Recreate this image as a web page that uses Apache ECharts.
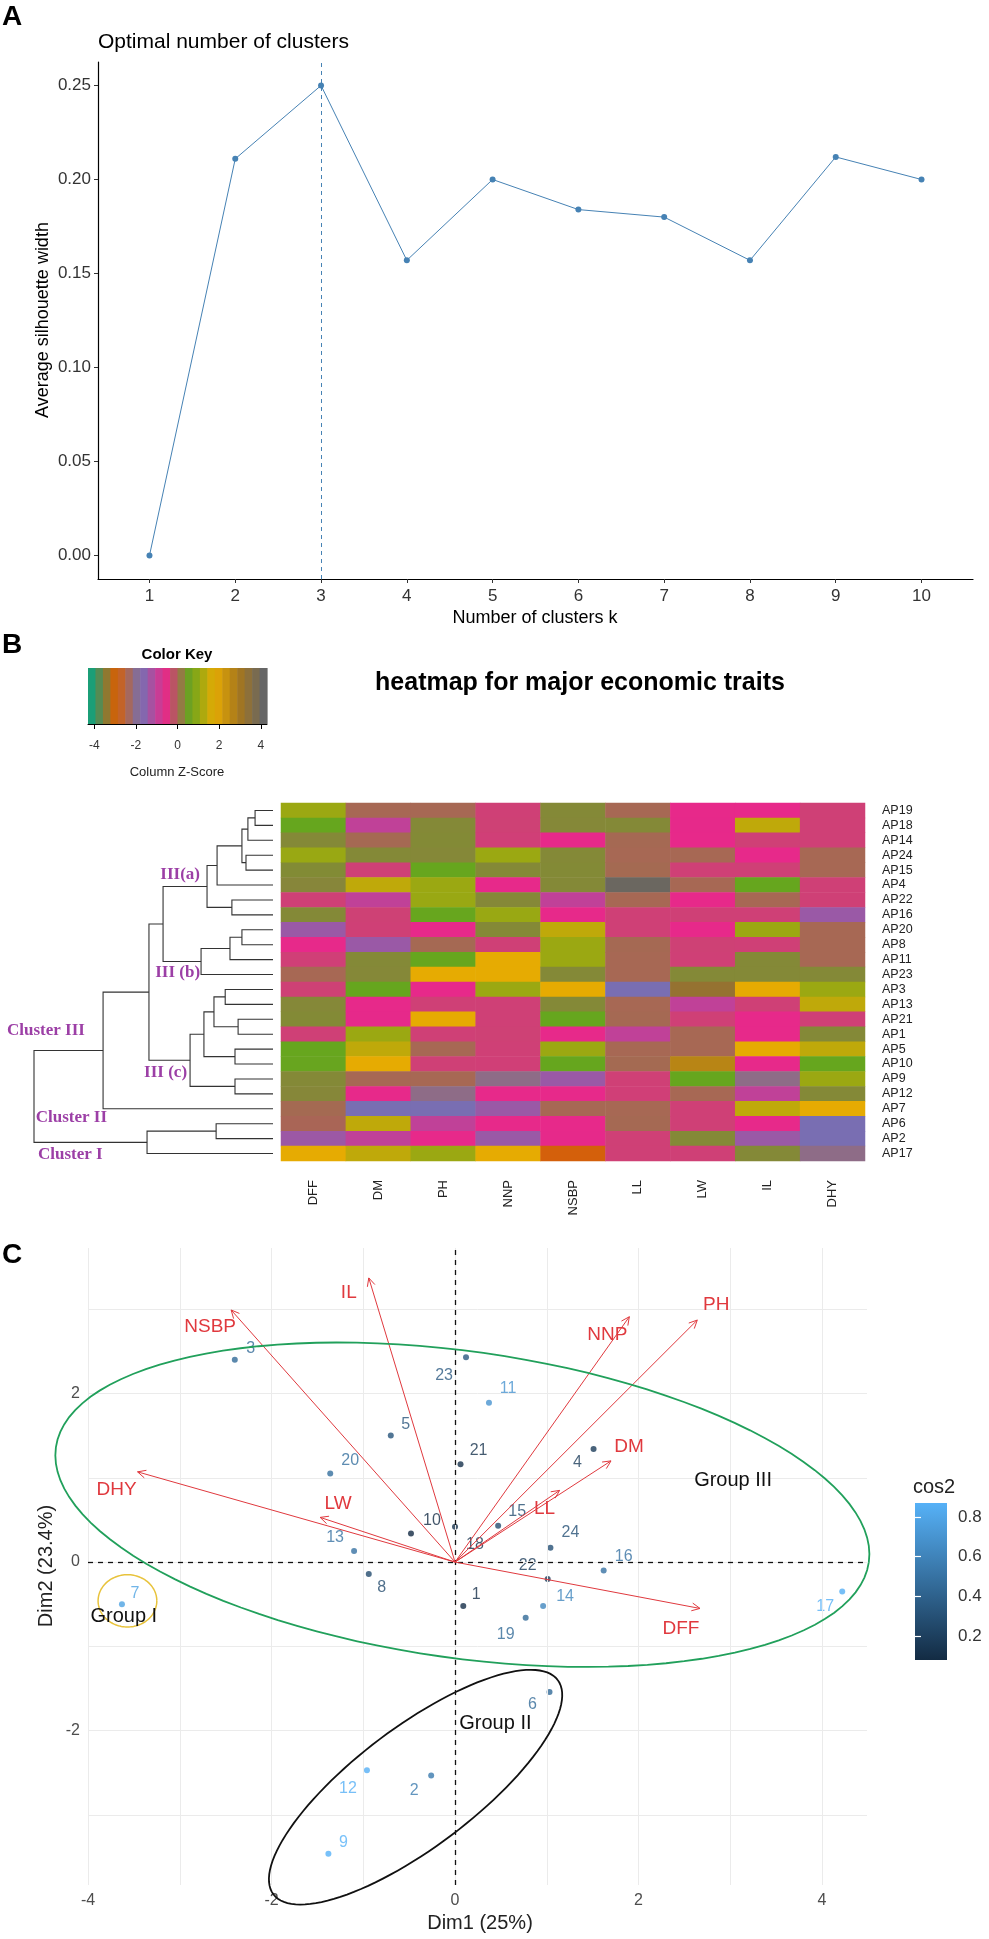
<!DOCTYPE html>
<html><head><meta charset="utf-8">
<script src="https://cdn.jsdelivr.net/npm/echarts@6/dist/echarts.min.js"></script>
<style>html,body{margin:0;padding:0;background:#fff}#c{width:989px;height:1939px}</style>
</head><body><div id="c"></div>
<script>
// ---------- Panel A data ----------
const kValues = [1,2,3,4,5,6,7,8,9,10];
const silhouette = [0.000,0.211,0.250,0.157,0.200,0.184,0.180,0.157,0.212,0.200];
const optimalK = 3;
const silTicks = [0,0.05,0.10,0.15,0.20,0.25];

// ---------- Panel B data ----------
const traits = ['DFF','DM','PH','NNP','NSBP','LL','LW','IL','DHY'];
const genotypes = ['AP19','AP18','AP14','AP24','AP15','AP4','AP22','AP16','AP20','AP8','AP11','AP23',
                   'AP3','AP13','AP21','AP1','AP5','AP10','AP9','AP12','AP7','AP6','AP2','AP17'];
const zDFF  = [1.12,0.61,0.33,1.10,0.35,0.30,-0.39,0.33,-1.44,-0.61,-0.40,0.00,-0.38,0.32,0.34,-0.39,0.62,0.60,0.33,0.31,0.02,-0.02,-1.42,1.84];
const zDM   = [0.00,-1.03,0.01,0.33,-0.39,1.47,-1.03,-0.38,-0.39,-1.44,0.33,0.32,0.61,-0.61,-0.62,1.12,1.47,1.84,0.00,-0.61,-1.80,1.47,-1.03,1.47];
const zPH   = [0.00,0.33,0.34,0.32,0.61,1.12,1.10,0.62,-0.61,0.01,0.61,1.84,-0.61,-0.39,1.84,-0.39,0.00,-0.39,0.00,-2.15,-1.80,-1.03,-0.61,1.12];
const zNNP  = [-0.39,-0.38,-0.40,1.12,0.33,-0.61,0.32,1.10,0.33,-0.39,1.84,1.84,1.12,-0.39,-0.39,-0.38,-0.39,-0.40,-2.15,-0.61,-1.44,-0.61,-1.44,1.84];
const zNSBP = [0.33,0.32,-0.61,0.33,0.34,0.33,-1.03,-0.61,1.47,1.12,1.12,0.33,1.84,0.33,0.61,-0.61,1.12,0.61,-1.44,-0.61,0.00,-0.61,-0.62,-3.01];
const zLL   = [0.00,0.33,0.01,0.00,0.02,4.20,0.00,-0.39,-0.39,0.01,0.00,0.00,-1.80,0.00,0.01,-1.03,0.00,0.02,-0.39,-0.40,0.00,0.01,-0.39,-0.39];
const zLW   = [-0.61,-0.62,-0.61,0.00,-0.39,0.00,-0.61,-0.39,-0.61,-0.38,-0.39,0.33,3.40,-1.03,-0.39,0.00,0.00,2.73,0.61,0.00,-0.39,-0.39,0.33,-0.39];
const zIL   = [-0.61,1.47,-0.39,-0.61,-0.39,0.61,0.00,-0.39,1.12,-0.39,0.33,0.33,1.84,-0.39,-0.61,-0.61,1.84,-0.61,-2.15,-1.03,1.47,-0.61,-1.44,0.33];
const zDHY  = [-0.39,-0.39,-0.39,0.00,0.00,-0.39,-0.39,-1.44,0.00,0.00,0.00,0.33,1.12,1.47,-0.39,0.33,1.47,0.61,1.12,0.33,1.84,-1.80,-1.80,-2.15];
const keyTicks = [-4,-2,0,2,4];
// dendrogram merges: [childA, childB, height]; strings = leaves, numbers = earlier merges
const merges = [
  ['AP19','AP18',0.75], [0,'AP14',1.05], ['AP24','AP15',1.13], [1,2,1.30], [3,'AP4',2.34],
  ['AP22','AP16',1.72], [4,5,2.76], ['AP20','AP8',1.30], [7,'AP11',1.80], [8,'AP23',3.01],
  [6,9,4.60], ['AP3','AP13',2.00], ['AP21','AP1',1.46], [11,12,2.47], ['AP5','AP10',1.59],
  [13,14,2.89], ['AP9','AP12',1.59], [15,16,3.47], [10,17,5.19], [18,'AP7',7.11],
  ['AP6','AP2',2.38], [20,'AP17',5.27], [19,21,10.0]
];

// ---------- Panel C data ----------
const pcaIds = ['1','2','3','4','5','6','7','8','9','10','11','12','13','14','15','16','17','18','19','20','21','22','23','24'];
const dim1 = [0.09,-0.26,-2.40,1.51,-0.70,1.03,-3.63,-0.94,-1.38,-0.48,0.37,-0.96,-1.10,0.96,0.47,1.62,4.22,0.00,0.77,-1.36,0.06,1.01,0.12,1.04];
const dim2 = [-0.52,-2.53,2.40,1.34,1.50,-1.54,-0.50,-0.14,-3.46,0.34,1.89,-2.47,0.13,-0.52,0.43,-0.10,-0.35,0.42,-0.66,1.05,1.16,-0.20,2.43,0.17];
const cos2 = [0.10,0.55,0.45,0.18,0.32,0.45,0.78,0.27,0.87,0.08,0.70,0.86,0.50,0.62,0.28,0.50,0.86,0.12,0.45,0.48,0.12,0.18,0.35,0.30];
const cos2Ticks = [0.2,0.4,0.6,0.8];
const varNames = ['DFF','DM','PH','NNP','NSBP','LL','LW','IL','DHY'];
const varDim1 = [2.67,1.70,2.64,1.90,-2.44,1.14,-1.47,-0.94,-3.46];
const varDim2 = [-0.55,1.20,2.87,2.91,2.99,0.85,0.53,3.37,1.07];
const groupNames = ['Group III','Group I','Group II'];
const groupLabelAt = [[3.03,0.97],[-3.61,-0.65],[0.44,-1.91]];
const pcaXTicks = [-4,-2,0,2,4];
const pcaYTicks = [-2,0,2];
const pcaXGrid = [-4,-3,-2,-1,0,1,2,3,4];
const pcaYGrid = [-3,-2,-1,0,1,2,3];

// ---------- layout / style (not data) ----------
const FONT = 'Liberation Sans';
const dark2 = ['#1B9E77','#D95F02','#7570B3','#E7298A','#66A61E','#E6AB02','#A6761D','#666666'];
const keyMin = -4.3, keyMax = 4.3, keyStripes = 24;
const pointLabelOffset = [[13,-11],[-17,15],[16,-11],[-16,14],[15,-11],[-17,13],[13,-11],[13,14],[15,-11],[21,-13],[19,-14],[-19,18],[-19,-14],[22,-9],[19,-14],[20,-14],[-17,15],[20,18],[-20,17],[20,-13],[18,-14],[-20,-13],[-22,18],[20,-15]];
const varLabelOffset = [[-19,20],[18,-14],[19,-15],[-22,18],[-21,17],[-15,18],[18,-14],[-20,15],[-21,18]];
const ellipses = [ // center, conjugate semi-axes in data units
  {c:[0.08,0.68], a:[4.43,-0.68], b:[-0.23,-1.80], color:'#21A05B', w:1.8},
  {c:[-3.57,-0.46], a:[0.32,0], b:[0,0.31], color:'#E8C33C', w:1.5},
  {c:[-0.43,-2.67], a:[1.55,1.27], b:[0.39,-0.57], color:'#111111', w:1.8}
];
const dendroLabels = [
  {node:6, text:'III(a)', dx:-7, dy:-12, align:'right'},
  {node:9, text:'III (b)', dx:-1, dy:11, align:'right'},
  {node:17, text:'III (c)', dx:-3, dy:12, align:'right'},
  {node:22, child:0, text:'Cluster III', dx:-27, dy:-20, align:'left'},
  {node:19, child:1, text:'Cluster II', dx:4, dy:9, align:'right'},
  {node:22, child:1, text:'Cluster I', dx:4, dy:12, align:'left'}
];

function hexToRgb(h){return [parseInt(h.slice(1,3),16),parseInt(h.slice(3,5),16),parseInt(h.slice(5,7),16)];}
function ramp(cols,t){
  t=Math.max(0,Math.min(1,t));
  const s=t*(cols.length-1); const i=Math.min(Math.floor(s),cols.length-2); const f=s-i;
  const a=hexToRgb(cols[i]), b=hexToRgb(cols[i+1]);
  return 'rgb('+a.map((v,k)=>Math.round(v+(b[k]-v)*f)).join(',')+')';
}

// heatmap table
const zCols = [zDFF,zDM,zPH,zNNP,zNSBP,zLL,zLW,zIL,zDHY];
const heatData = [];
zCols.forEach((col,j)=>col.forEach((v,i)=>heatData.push([j,i,v])));

// color key stripes
const keyData = [];
const sw = (keyMax-keyMin)/keyStripes;
for(let k=0;k<keyStripes;k++) keyData.push([keyMin+k*sw, keyMin+(k+1)*sw, k]);

// dendrogram geometry from merges
const leafIndex = {}; genotypes.forEach((g,i)=>leafIndex[g]=i);
const nodeY = [];
function yOf(c){return typeof c==='string'?leafIndex[c]:nodeY[c];}
function hOf(c){return typeof c==='string'?0:merges[c][2];}
merges.forEach((m,k)=>{nodeY[k]=(yOf(m[0])+yOf(m[1]))/2;});

// cos2 colours
const cMin = Math.min(...cos2), cMax = Math.max(...cos2);
const cosLow = '#132B43', cosHigh = '#56B1F7';
function cosColor(v){return ramp([cosLow,cosHigh],(v-cMin)/(cMax-cMin));}

const chart = echarts.init(document.getElementById('c'), null, {renderer:'canvas'});
const red = '#E0393E';

const option = {
  animation:false,
  backgroundColor:'#fff',
  textStyle:{fontFamily:FONT},
  grid:[
    {left:98, top:62, width:875, height:517},   // A
    {left:88, top:668, width:179, height:56},   // colour key
    {left:34, top:803, width:239, height:358},  // dendrogram
    {left:281, top:803, width:584, height:358}, // heatmap
    {left:88, top:1248, width:779, height:637}, // PCA
    {left:915, top:1503, width:32, height:157}  // cos2 bar
  ],
  xAxis:[
    {type:'value', gridIndex:0, min:0.4, max:10.6,
      axisLine:{show:true,onZero:false,lineStyle:{color:'#000',width:1.2}},
      axisTick:{show:true,customValues:kValues,length:4,lineStyle:{color:'#333'}},
      axisLabel:{customValues:kValues,fontSize:17,color:'#333',margin:9,fontFamily:FONT},
      splitLine:{show:false}},
    {type:'value', gridIndex:1, min:keyMin, max:keyMax,
      axisLine:{show:true,onZero:false,lineStyle:{color:'#000',width:1}},
      axisTick:{show:true,customValues:keyTicks,length:5,lineStyle:{color:'#000'}},
      axisLabel:{customValues:keyTicks,fontSize:12,color:'#333',margin:16,fontFamily:FONT},
      splitLine:{show:false}},
    {type:'value', gridIndex:2, min:0, max:10, inverse:true, show:false},
    {type:'category', gridIndex:3, data:traits, position:'bottom',
      axisLine:{show:false}, axisTick:{show:false},
      axisLabel:{interval:0,rotate:90,fontSize:13,color:'#222',margin:19,fontFamily:FONT}},
    {type:'value', gridIndex:4, min:-4, max:4.49, interval:1,
      axisLine:{show:false},
      axisTick:{show:true,customValues:pcaXTicks,length:4,lineStyle:{color:'#666'}},
      axisLabel:{customValues:pcaXTicks,fontSize:16,color:'#4D4D4D',margin:8,fontFamily:FONT},
      splitLine:{show:false}},
    {type:'value', gridIndex:5, min:0, max:1, show:false}
  ],
  yAxis:[
    {type:'value', gridIndex:0, min:-0.0125, max:0.2625,
      axisLine:{show:true,onZero:false,lineStyle:{color:'#000',width:1.2}},
      axisTick:{show:true,customValues:silTicks,length:4,lineStyle:{color:'#333'}},
      axisLabel:{customValues:silTicks,fontSize:17,color:'#333',margin:7,fontFamily:FONT,formatter:v=>Number(v).toFixed(2)},
      splitLine:{show:false}},
    {type:'value', gridIndex:1, min:0, max:1, show:false},
    {type:'value', gridIndex:2, min:-0.5, max:23.5, inverse:true, show:false},
    {type:'category', gridIndex:3, data:genotypes, inverse:true, position:'right',
      axisLine:{show:false}, axisTick:{show:false},
      axisLabel:{interval:0,fontSize:12.5,color:'#222',margin:17,fontFamily:FONT}},
    {type:'value', gridIndex:4, min:-3.83, max:3.725,
      axisLine:{show:false},
      axisTick:{show:true,customValues:pcaYTicks,length:4,lineStyle:{color:'#666'}},
      axisLabel:{customValues:pcaYTicks,fontSize:16,color:'#4D4D4D',margin:8,fontFamily:FONT},
      splitLine:{show:false}},
    {type:'value', gridIndex:5, min:cMin, max:cMax, position:'right', z:10,
      axisLine:{show:false},
      axisTick:{show:true,inside:true,customValues:cos2Ticks,length:6,lineStyle:{color:'#fff',width:1.2}},
      axisLabel:{customValues:cos2Ticks,fontSize:17,color:'#333',margin:11,fontFamily:FONT},
      splitLine:{show:false}},
    {type:'value', gridIndex:5, min:cMin, max:cMax, position:'left', z:10,
      axisLine:{show:false},
      axisTick:{show:true,inside:true,customValues:cos2Ticks,length:6,lineStyle:{color:'#fff',width:1.2}},
      axisLabel:{show:false}, splitLine:{show:false}}
  ],
  visualMap:[
    {type:'continuous', show:false, seriesIndex:2, dimension:2, min:keyMin, max:keyMax, inRange:{color:dark2}}
  ],
  series:[
    // 0: silhouette line
    {type:'line', xAxisIndex:0, yAxisIndex:0, data:kValues.map((k,i)=>[k,silhouette[i]]),
      symbol:'circle', symbolSize:6, itemStyle:{color:'#4682B4'}, lineStyle:{color:'#4682B4',width:1},
      markLine:{silent:true,symbol:'none',label:{show:false},
        lineStyle:{color:'#4682B4',type:[4,4],width:1},data:[{xAxis:optimalK}]}},
    // 1: colour key stripes
    {type:'custom', xAxisIndex:1, yAxisIndex:1, data:keyData,
      renderItem:(p,api)=>{
        const lo=api.value(0), hi=api.value(1), k=api.value(2);
        const a=api.coord([lo,1]), b=api.coord([hi,0]);
        return {type:'rect', shape:{x:a[0],y:a[1],width:b[0]-a[0]+0.6,height:b[1]-a[1]},
          style:{fill:ramp(dark2,k/(keyStripes-1))}};
      }},
    // 2: heatmap
    {type:'heatmap', xAxisIndex:3, yAxisIndex:3, data:heatData, itemStyle:{borderWidth:0}, emphasis:{disabled:true}},
    // 3: dendrogram
    {type:'custom', xAxisIndex:2, yAxisIndex:2, data:merges.map((m,k)=>[m[2],nodeY[k],k]),
      renderItem:(p,api)=>{
        const k=api.value(2); const m=merges[k]; const h=m[2];
        const y1=yOf(m[0]), y2=yOf(m[1]);
        const pts=[api.coord([hOf(m[0]),y1]),api.coord([h,y1]),api.coord([h,y2]),api.coord([hOf(m[1]),y2])];
        const children=[{type:'polyline',shape:{points:pts},style:{stroke:'#333',lineWidth:1.1,fill:null}}];
        dendroLabels.filter(d=>d.node===k).forEach(d=>{
          const ay = d.child===undefined ? nodeY[k] : yOf(m[d.child]);
          const c=api.coord([h,ay]);
          children.push({type:'text',x:c[0]+d.dx,y:c[1]+d.dy,style:{text:d.text,fill:'#9C3FA6',
            fontSize:17,fontWeight:'bold',fontFamily:'Liberation Serif',align:d.align,verticalAlign:'middle'}});
        });
        return {type:'group',children};
      }},
    // 4: PCA grid lines (background)
    {type:'scatter', xAxisIndex:4, yAxisIndex:4, data:[], z:0, silent:true,
      markLine:{silent:true,symbol:'none',label:{show:false},animation:false,
        lineStyle:{color:'#EBEBEB',type:'solid',width:1},
        data:pcaXGrid.map(v=>({xAxis:v})).concat(pcaYGrid.map(v=>({yAxis:v})))}},
    // 5: PCA points
    {type:'scatter', xAxisIndex:4, yAxisIndex:4, symbolSize:6, z:4,
      data:pcaIds.map((id,i)=>({name:id, value:[dim1[i],dim2[i],cos2[i]],
        itemStyle:{color:cosColor(cos2[i])},
        label:{show:true,formatter:id,position:'inside',offset:pointLabelOffset[i],color:cosColor(cos2[i]),
          fontSize:16,fontFamily:FONT}})),
      markLine:{silent:true,symbol:'none',label:{show:false},
        lineStyle:{color:'#111',type:[5,5],width:1.3},data:[{xAxis:0},{yAxis:0}]}},
    // 6: variable arrows
    {type:'custom', xAxisIndex:4, yAxisIndex:4, z:5, data:varNames.map((n,i)=>[varDim1[i],varDim2[i],i]),
      renderItem:(p,api)=>{
        const i=api.value(2); const o=api.coord([0,0]); const t=api.coord([api.value(0),api.value(1)]);
        const ang=Math.atan2(t[1]-o[1],t[0]-o[0]); const L=9, a=Math.PI/7;
        const h1=[t[0]-L*Math.cos(ang-a),t[1]-L*Math.sin(ang-a)];
        const h2=[t[0]-L*Math.cos(ang+a),t[1]-L*Math.sin(ang+a)];
        return {type:'group',children:[
          {type:'line',shape:{x1:o[0],y1:o[1],x2:t[0],y2:t[1]},style:{stroke:red,lineWidth:1}},
          {type:'polyline',shape:{points:[h1,t,h2]},style:{stroke:red,lineWidth:1,fill:null}},
          {type:'text',x:t[0]+varLabelOffset[i][0],y:t[1]+varLabelOffset[i][1],
            style:{text:varNames[i],fill:red,fontSize:19,fontFamily:FONT,align:'center',verticalAlign:'middle'}}
        ]};
      }},
    // 7: group ellipses + labels
    {type:'custom', xAxisIndex:4, yAxisIndex:4, z:6, data:groupNames.map((g,i)=>[groupLabelAt[i][0],groupLabelAt[i][1],i]),
      renderItem:(p,api)=>{
        const i=api.value(2); const e=ellipses[i]; const pts=[];
        for(let s=0;s<=120;s++){const t=s/120*2*Math.PI;
          pts.push(api.coord([e.c[0]+e.a[0]*Math.cos(t)+e.b[0]*Math.sin(t), e.c[1]+e.a[1]*Math.cos(t)+e.b[1]*Math.sin(t)]));}
        const lp=api.coord([api.value(0),api.value(1)]);
        return {type:'group',children:[
          {type:'polyline',shape:{points:pts},style:{stroke:e.color,lineWidth:e.w,fill:null}},
          {type:'text',x:lp[0],y:lp[1],style:{text:groupNames[i],fill:'#111',fontSize:20,fontFamily:FONT,align:'center',verticalAlign:'middle'}}
        ]};
      }},
    // 8: cos2 colour bar
    {type:'custom', xAxisIndex:5, yAxisIndex:5, z:1, data:[[0,cMin,1,cMax]],
      renderItem:(p,api)=>{
        const a=api.coord([0,api.value(3)]), b=api.coord([1,api.value(1)]);
        return {type:'rect',shape:{x:a[0],y:a[1],width:b[0]-a[0],height:b[1]-a[1]},
          style:{fill:new echarts.graphic.LinearGradient(0,0,0,1,[{offset:0,color:cosHigh},{offset:1,color:cosLow}])}};
      }}
  ],
  graphic:{elements:[
    {type:'text',x:2,y:17,style:{text:'A',fontSize:28,fontWeight:'bold',fontFamily:FONT,fill:'#000',verticalAlign:'middle'}},
    {type:'text',x:98,y:42,style:{text:'Optimal number of clusters',fontSize:21,fontFamily:FONT,fill:'#000',verticalAlign:'middle'}},
    {type:'text',x:43,y:320,rotation:Math.PI/2,style:{text:'Average silhouette width',fontSize:18,fontFamily:FONT,fill:'#000',align:'center',verticalAlign:'middle'}},
    {type:'text',x:535,y:618,style:{text:'Number of clusters k',fontSize:18,fontFamily:FONT,fill:'#000',align:'center',verticalAlign:'middle'}},
    {type:'text',x:2,y:645,style:{text:'B',fontSize:28,fontWeight:'bold',fontFamily:FONT,fill:'#000',verticalAlign:'middle'}},
    {type:'text',x:177,y:655,style:{text:'Color Key',fontSize:15,fontWeight:'bold',fontFamily:FONT,fill:'#000',align:'center',verticalAlign:'middle'}},
    {type:'text',x:177,y:772,style:{text:'Column Z-Score',fontSize:13,fontFamily:FONT,fill:'#222',align:'center',verticalAlign:'middle'}},
    {type:'text',x:580,y:683,style:{text:'heatmap for major economic traits',fontSize:25,fontWeight:'bold',fontFamily:FONT,fill:'#000',align:'center',verticalAlign:'middle'}},
    {type:'text',x:2,y:1255,style:{text:'C',fontSize:28,fontWeight:'bold',fontFamily:FONT,fill:'#000',verticalAlign:'middle'}},
    {type:'text',x:480,y:1923,style:{text:'Dim1 (25%)',fontSize:20,fontFamily:FONT,fill:'#222',align:'center',verticalAlign:'middle'}},
    {type:'text',x:46,y:1566,rotation:Math.PI/2,style:{text:'Dim2 (23.4%)',fontSize:20,fontFamily:FONT,fill:'#222',align:'center',verticalAlign:'middle'}},
    {type:'text',x:913,y:1487,style:{text:'cos2',fontSize:20,fontFamily:FONT,fill:'#222',verticalAlign:'middle'}}
  ]}
};
chart.setOption(option);
</script></body></html>
